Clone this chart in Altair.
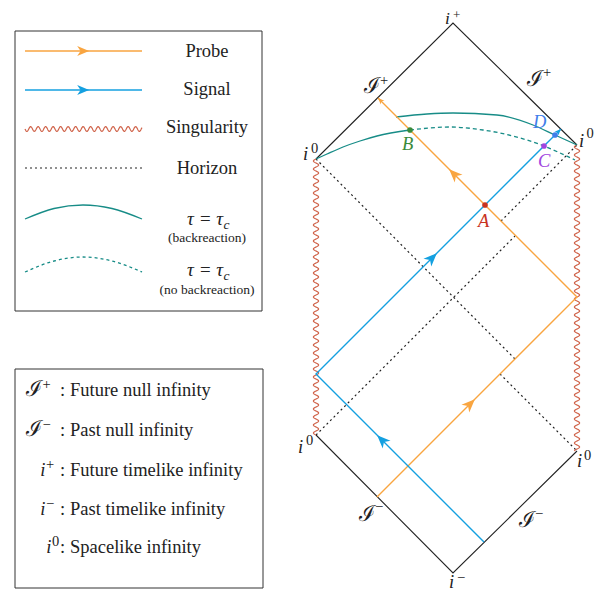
import altair as alt
import numpy as np
import pandas as pd

# ---------------- data (page-pixel coordinates of the diagram) ----------------
frame_up_x = [316, 453, 577]
frame_up_y = [159, 23, 145]
frame_lo_x = [316, 453, 577]
frame_lo_y = [435, 573, 451]

sing_left = [(316, 159), (316, 435)]
sing_right = [(577, 145), (577, 451)]

horizon_segs = [
    [(316, 159), (515, 359)],
    [(500, 374), (577, 451)],
    [(316, 435), (515, 236)],
    [(501, 221), (577, 145)],
]

probe_x = [377, 577, 378]
probe_y = [497, 297, 98]
signal_x = [484, 316, 561]
signal_y = [542, 374, 129]

curve_low_solid_x = [316, 327, 343, 360, 377, 410]
curve_low_solid_y = [159, 154, 147, 141, 136, 130]
curve_low_dash_x = [410, 450, 483, 513, 544, 560, 575]
curve_low_dash_y = [130, 127, 130, 136, 146, 153, 160]
curve_up_x = [396, 427, 453, 497, 533, 555, 577]
curve_up_y = [117, 114, 113, 115, 125, 135, 145]

pt_names = ["A", "B", "C", "D"]
pt_x = [485, 410, 544, 555]
pt_y = [205, 130, 146, 135]
pt_colors = ["#C8331F", "#3A8A3A", "#A146DF", "#3F7EEA"]

ORANGE = "#F9A540"
BLUE = "#14A0E0"
RED = "#D0644B"
TEAL = "#178C87"
INK = "#222222"
FONT = "Liberation Serif"
SCRIPT = "DejaVu Serif"

W, H = 593, 583
XS = alt.Scale(domain=[8, 8 + W], nice=False, zero=False)
YS = alt.Scale(domain=[8, 8 + H], nice=False, zero=False, reverse=True)


def enc():
    return dict(x=alt.X("x:Q", scale=XS, axis=None), y=alt.Y("y:Q", scale=YS, axis=None))


def lines(segs, color, width=1.2, dash=None, interp="linear"):
    rows = []
    for k, seg in enumerate(segs):
        for i, (x, y) in enumerate(seg):
            rows.append({"seg": k, "i": i, "x": x, "y": y})
    kw = dict(color=color, strokeWidth=width, interpolate=interp)
    if dash:
        kw["strokeDash"] = dash
    return alt.Chart(pd.DataFrame(rows)).mark_line(**kw).encode(
        detail="seg:N", order="i:Q", **enc())


def wavy(p0, p1, amp=2.6, wl=8.0):
    (x0, y0), (x1, y1) = p0, p1
    L = float(np.hypot(x1 - x0, y1 - y0))
    s = np.linspace(0, L, int(L * 3))
    ux, uy = (x1 - x0) / L, (y1 - y0) / L
    w = amp * np.sin(2 * np.pi * s / wl)
    return list(zip(x0 + ux * s - uy * w, y0 + uy * s + ux * w))


def texts(rows, size, align="left", style="normal", font=FONT):
    df = pd.DataFrame(rows, columns=["t", "x", "y", "c"])
    return alt.Chart(df).mark_text(font=font, fontSize=size, fontStyle=style,
                                   align=align, baseline="alphabetic").encode(
        text="t:N", color=alt.Color("c:N", scale=None), **enc())


ARROW = "M0,-1L0.8,0.95L0,0.4L-0.8,0.95Z"


def arrows(rows, size):
    df = pd.DataFrame(rows, columns=["x", "y", "a", "c"])
    return alt.Chart(df).mark_point(shape=ARROW, filled=True, size=size, opacity=1).encode(
        angle=alt.Angle("a:Q", scale=None), color=alt.Color("c:N", scale=None), **enc())


layers = []

# legend boxes
boxes = pd.DataFrame({"x": [15, 15], "x2": [262, 263], "y": [31, 369], "y2": [311, 588]})
layers.append(alt.Chart(boxes).mark_rect(fill="white", stroke="#333333", strokeWidth=1).encode(
    x=alt.X("x:Q", scale=XS, axis=None), x2="x2:Q",
    y=alt.Y("y:Q", scale=YS, axis=None), y2="y2:Q"))

# frame
layers.append(lines([list(zip(frame_up_x, frame_up_y)), list(zip(frame_lo_x, frame_lo_y))], INK, 1.1))
# horizons
layers.append(lines(horizon_segs, INK, 1.2, dash=[2, 3]))
# singularities
layers.append(lines([wavy(*sing_left), wavy(*sing_right)], RED, 1.2))
# tau curves
layers.append(lines([list(zip(curve_low_solid_x, curve_low_solid_y)),
                     list(zip(curve_up_x, curve_up_y))], TEAL, 1.3, interp="monotone"))
layers.append(lines([list(zip(curve_low_dash_x, curve_low_dash_y))], TEAL, 1.3,
                    dash=[4, 3], interp="monotone"))
# probe & signal
layers.append(lines([list(zip(probe_x, probe_y))], ORANGE, 1.4))
layers.append(lines([list(zip(signal_x, signal_y))], BLUE, 1.4))

# arrows on rays
r = np.sqrt(45) / 2 / np.sqrt(2)
layers.append(arrows([
    (470, 404, 45, ORANGE), (454, 174, 315, ORANGE),
    (382, 440, 315, BLUE), (432, 258, 45, BLUE),
], 190))
layers.append(arrows([
    (probe_x[-1] + r, probe_y[-1] + r, 315, ORANGE),
    (signal_x[-1] - r, signal_y[-1] + r, 45, BLUE),
], 45))

# dots
dots = pd.DataFrame({"x": pt_x, "y": pt_y, "c": pt_colors})
layers.append(alt.Chart(dots).mark_circle(size=32, opacity=1).encode(
    color=alt.Color("c:N", scale=None), **enc()))

# diagram labels
layers.append(texts([("i", 445, 24, INK)], 17.5, style="italic"))
layers.append(texts([("+", 453, 19, INK)], 13))
layers.append(texts([
    ("i", 303, 160, INK), ("i", 579, 147, INK),
    ("i", 298, 453, INK), ("i", 577, 467, INK), ("i", 449, 588, INK),
] + [(n, x, y, c) for n, x, y, c in zip(pt_names, [478, 402, 538, 533], [227, 150, 167, 128], pt_colors)],
    18.5, style="italic"))
layers.append(texts([
    ("0", 311, 153, INK), ("0", 586.5, 138, INK),
    ("0", 306, 445, INK), ("0", 584, 460, INK), ("−", 457, 582, INK),
    ("+", 380, 85, INK), ("+", 543, 77, INK), ("−", 375, 511, INK), ("−", 535, 518, INK),
], 14.5))
layers.append(texts([
    ("ℐ", 380, 93, INK), ("ℐ", 543, 86, INK), ("ℐ", 375, 521, INK), ("ℐ", 535, 527, INK),
], 22, align="right", font=SCRIPT))

# legend 1 samples
layers.append(lines([[(25, 51), (142, 51)]], ORANGE, 1.4))
layers.append(lines([[(25, 90), (142, 90)]], BLUE, 1.4))
layers.append(lines([wavy((25, 129), (142, 129), amp=2.4, wl=7.5)], RED, 1.2))
layers.append(lines([[(25, 168), (142, 168)]], INK, 1.2, dash=[2, 3]))
layers.append(lines([[(25, 219), (54, 208.5), (83, 205), (112, 208.5), (142, 219)]], TEAL, 1.3, interp="monotone"))
layers.append(lines([[(25, 272), (54, 261), (83, 257), (112, 261), (142, 272)]], TEAL, 1.3,
                    dash=[3, 3], interp="monotone"))
layers.append(arrows([(83, 51, 90, ORANGE), (83, 90, 90, BLUE)], 150))

# legend 1 text
layers.append(texts([
    ("Probe", 207, 57, INK), ("Signal", 207, 95, INK),
    ("Singularity", 207, 133, INK), ("Horizon", 207, 174, INK),
], 18.5, align="center"))
layers.append(texts([("τ = τ", 223, 225, INK), ("τ = τ", 223, 276, INK)], 19, align="right", style="italic"))
layers.append(texts([("c", 223.5, 228.5, INK), ("c", 223.5, 279.5, INK)], 13.5, style="italic"))
layers.append(texts([("(backreaction)", 207, 242, INK), ("(no backreaction)", 207, 294, INK)],
                    13.5, align="center"))

# legend 2
rows_base = ["ℐ", "ℐ", "i", "i", "i"]
rows_sup = ["+", "−", "+", "−", "0"]
rows_desc = ["Future null infinity", "Past null infinity", "Future timelike infinity",
             "Past timelike infinity", "Spacelike infinity"]
rows_y = [396, 436, 476, 515, 553]
rows_sx = [42, 42, 45.5, 45.5, 51.5]

layers.append(texts([(b, sx, y, INK) for b, sx, y in zip(rows_base[:2], rows_sx[:2], rows_y[:2])],
                    22, align="right", font=SCRIPT))
layers.append(texts([(b, sx, y, INK) for b, sx, y in zip(rows_base[2:], rows_sx[2:], rows_y[2:])],
                    18.5, align="right", style="italic"))
layers.append(texts([(s, sx + 0.5, y - 7, INK) for s, sx, y in zip(rows_sup, rows_sx, rows_y)], 14.5))
layers.append(texts([(":", 60, y, INK) for y in rows_y] +
                    [(d, 70, y, INK) for d, y in zip(rows_desc, rows_y)], 18.5))

chart = alt.layer(*layers).properties(
    width=W, height=H,
    autosize=alt.AutoSizeParams(type="none"),
    padding={"left": 0, "top": 0, "right": 0, "bottom": 0},
    background="white",
).configure_view(stroke=None)

chart.save("out.html", embed_options={"renderer": "svg", "actions": False})
